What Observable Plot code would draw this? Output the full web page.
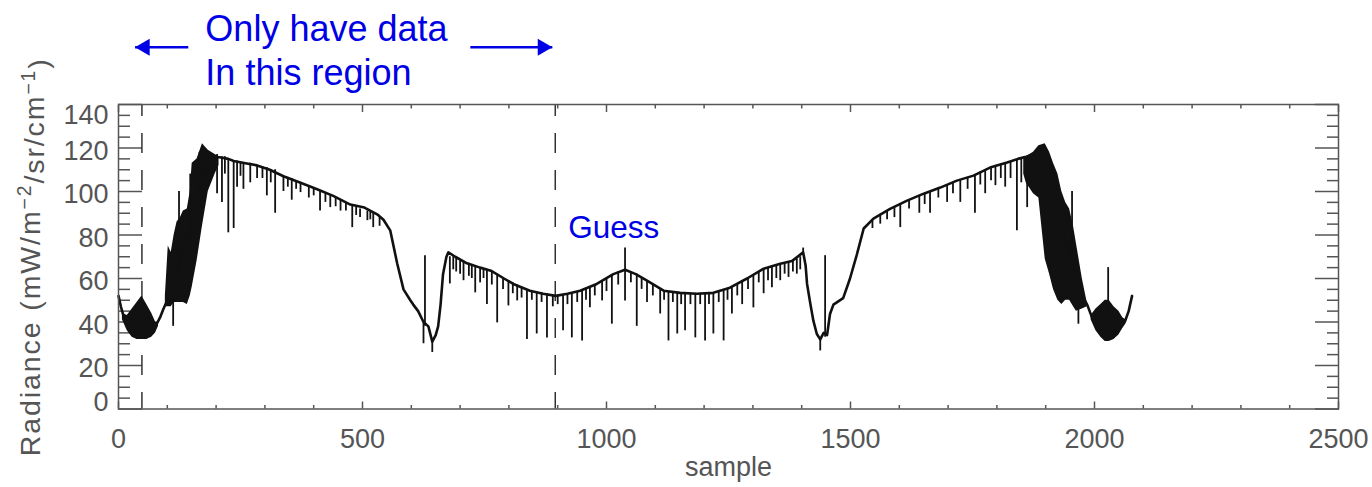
<!DOCTYPE html>
<html>
<head>
<meta charset="utf-8">
<script src="https://cdn.jsdelivr.net/npm/d3@7"></script>
<script src="https://cdn.jsdelivr.net/npm/@observablehq/plot@0.6"></script>
<style>
  html, body { margin: 0; padding: 0; background: #fff; }
  #chart svg { display: block; }
</style>
</head>
<body>
<div id="chart"></div>
<script>
// ---- data: [sample, radiance] ----
const spectrum = [
  [0,52],[5,47],[10,43],[18,40],[30,38],[48,40],[65,38],[78,39],[85,42],[92,46],
  [100,50],[106,53],[112,60],[131,70],[151,85],[172,105],[184,115],[198,116],[210,115.6],[225,115],
  [236,114],[260,113],[284,112],[310,110],[338,107],[373,104],[407,101],[440,98],[475,94],[504,92.6],
  [530,89.5],[543,87],[557,82],[571,67],[584,55],[598,50],[604,48],[614,45],[625,40],[635,38],
  [643,31],[650,34],[655,38],[660,48],[665,62],[672,70],[676,72],[690,70],[714,67],[741,65],
  [763,63.6],[790,60],[809,57.5],[843,54.4],[870,53],[896,52],[920,53],[946,54.4],[980,57.5],[1014,62],
  [1038,64],[1060,62],[1083,59],[1117,54.4],[1151,53.4],[1185,53],[1219,53.4],[1253,55.8],[1288,60],[1322,64.5],
  [1356,66.8],[1380,68],[1403,72],[1408,66],[1411,57.5],[1418,48],[1424,40.5],[1431,34.5],[1438,32],[1445,35],
  [1452,34],[1458,43.7],[1465,48],[1485,51],[1499,60],[1513,71],[1527,83],[1547,87.5],[1581,92],[1616,95.8],
  [1650,99],[1684,101.8],[1718,105],[1752,107.3],[1786,111],[1821,113.3],[1843,115],[1860,116],[1875,117],[1886,119],
  [1903,118],[1920,100],[1935,80],[1950,70],[1963,60],[1975,52],[1985,48],[1995,42],[2010,39],[2030,37],
  [2050,38],[2062,40],[2070,45],[2077,52]
];

// narrow absorption / emission lines: [sample, radiance at line base, radiance at line tip]
const spectralLines = [
  [112,50,38],[124,60,100],[147,80,108],[166,95,118],
  [202,117,99],[212,116,95],[218,116,108],[225,115,81],[236,114,83],[243,114,102],[250,113.5,107],[256,113,101],
  [270,113,104],[284,112,106],[295,111.5,106],[304,111,98],[312,110,104],[321,110,90],[338,107,100],[347,106.5,102],
  [355,106,96],[364,105,101],[373,104,99.5],[390,102,97],[400,101.5,98],[413,100,91],[424,99,95],[434,98,92.6],
  [445,97,93],[455,96,91],[466,95,91],[479,94,83.4],[487,93,89],[495,92,88],[510,91,86.6],[516,90.5,87],
  [522,90,83.4],[535,88,84],
  [625,40,30],[628,38,70.5],[643,31,26],
  [679,70,57.5],[686,70,64],[692,69.5,63],[700,68,62],[707,68,59],[718,67,61],[724,66.5,60],[731,66,53.4],
  [741,65,58],[748,64.5,60],[755,64,48],[765,63.4,57],[776,62,39.6],[788,60.5,55],[799,59,47.4],[808,58,53],
  [817,57,49.7],[826,56,51],[837,55,32],[847,54.5,50],[857,54,34.5],[867,53.5,49],[878,53,32.7],[890,52.5,47],
  [900,52,48],[911,52.5,36],[920,53,48],[929,53,32.7],[940,54,49],[950,54.5,31.3],[958,55,50],[966,56,46.5],
  [976,57,52],[991,58.5,49.7],[1000,60,54],[1011,61.5,39],[1024,63,57],[1038,64,49.7],[1038,64,74],[1050,63,58],
  [1062,62,38],[1072,60.5,55],[1083,59,49],[1095,57.5,52],[1110,55.5,43.7],[1118,54.5,50],[1127,54,31.3],[1136,53.8,49],
  [1145,53.5,34.5],[1153,53.4,48],[1161,53.4,36],[1172,53.2,48],[1182,53.2,32.7],[1192,53.2,48],[1202,53.2,31.3],
  [1210,53.3,48],[1219,53.4,34.5],[1230,54,49],[1240,54.5,31.3],[1248,55,50],[1257,56,43.7],[1268,57.5,52],
  [1278,59,48],[1290,60,55],[1301,61.5,46.5],[1312,63,58],[1322,64.5,53],[1331,65,59],[1339,65.5,55.8],
  [1348,66,60],[1356,66.8,59],[1365,67.3,62],[1373,67.8,60.5],[1382,68.3,63],[1390,69,62],[1397,70,64],[1403,72,74],
  [1438,32,26.7],[1448,33,70.5],
  [1545,87,83],[1561,89.5,85],[1575,91,87],[1590,93,88],[1602,94.5,83.4],[1620,96,92],[1641,98,90],[1652,99,94],
  [1663,99.5,90],[1680,101.5,97],[1698,103,95],[1710,104,99],[1725,105.5,95],[1740,106.5,101],[1755,107.5,90],
  [1766,109,103],[1776,110,99],[1788,111,105],[1797,112,102.7],[1808,112.5,106],[1817,113,102],[1828,113.8,106],
  [1841,114.5,82],[1850,115,104],[1862,116,92.6],
  [1912,90,62],[1954,70,100],[1967,50,39],[2028,45,65]
];

// densely oscillating stretches, drawn as filled envelopes: [sample, low, high]
const leftBlob = [[8,41,44],[18,36,43],[28,33,46],[38,32,49],[48,32,52],[58,32,48],[68,33,44],[76,35,40],[82,38,40]];
const leftRise = [[96,47,52],[102,47,75],[108,47,72],[114,49,80],[120,49,86],[127,49,88],[133,49,91],[141,48,92],
  [147,52,100],[151,56,113],[161,68,115],[172,84,122],[184,100,119],[198,108,117],[206,112,116]];
const rightFall = [[1855,108,116],[1860,104,116],[1875,99,118],[1886,97,121],[1899,69,122],[1908,62,118],[1916,55,113],
  [1925,50,108],[1933,48,100],[1941,50,95],[1949,50,92],[1957,47,84],[1963,45,76],[1975,46,60],[1985,47,49]];
const rightBlob = [[1993,41,43],[2003,36,46],[2013,33,48],[2022,31,50],[2030,31,50],[2040,32,47],[2050,34,45],[2058,37,42],[2064,39,41]];

// axis ticks
const xMajorTicks = [0, 500, 1000, 1500, 2000, 2500];
const xMinorTicks = [100,200,300,400,600,700,800,900,1100,1200,1300,1400,1600,1700,1800,1900,2100,2200,2300,2400];
const yMajorTicks = [0, 20, 40, 60, 80, 100, 120, 140];
const yMinorTicks = [5,10,15,25,30,35,45,50,55,65,70,75,85,90,95,105,110,115,125,130,135];

// annotations
const regionBounds = [48, 895];
const regionNote = [{sample: 178, radiance: 183.4, text: "Only have data\nIn this region"}];
const guessNote = [{sample: 921.5, radiance: 89, text: "Guess"}];
const arrowsLeft = [{from: 143, to: 34, level: 166.3}];
const arrowsRight = [{from: 721, to: 889, level: 166.3}];

const xLabel = "sample";
const yLabel = "Radiance (mW/m-2/sr/cm-1)";
// pieces of the y title: [text, isSuperscript]
const yLabelParts = [["Radiance (mW/m", false], ["−2", true], ["/sr/cm", false], ["−1", true], [")", false]];

// ---- build ----
const line = spectrum.map(([sample, radiance]) => ({sample, radiance}));
const lines = spectralLines.map(([sample, base, tip]) => ({sample, base, tip}));
const bands = [
  ...leftBlob.map(d => ({band: "a", sample: d[0], lo: d[1], hi: d[2]})),
  ...leftRise.map(d => ({band: "b", sample: d[0], lo: d[1], hi: d[2]})),
  ...rightFall.map(d => ({band: "c", sample: d[0], lo: d[1], hi: d[2]})),
  ...rightBlob.map(d => ({band: "d", sample: d[0], lo: d[1], hi: d[2]}))
];

const blue = "#0000e6";
const gray = "#555555";
const ink = "#111111";
const fmt = d => String(d);

const chart = Plot.plot({
  width: 1372,
  height: 487,
  marginLeft: 118,
  marginRight: 34,
  marginTop: 104,
  marginBottom: 78.5,
  x: {domain: [0, 2500], label: null},
  y: {domain: [0, 140], label: null},
  style: {fontFamily: "'Liberation Sans', Arial, sans-serif", background: "white"},
  marks: [
    // tick marks, pointing inward on all four sides
    Plot.axisX(xMajorTicks, {anchor: "bottom", tickSize: -7, tickFormat: () => "", label: null, color: gray, strokeWidth: 1.5}),
    Plot.axisX(xMinorTicks, {anchor: "bottom", tickSize: -3.5, tickFormat: () => "", label: null, color: gray, strokeWidth: 1.5}),
    Plot.axisX(xMajorTicks, {anchor: "top", tickSize: -7, tickFormat: () => "", label: null, color: gray, strokeWidth: 1.5}),
    Plot.axisX(xMinorTicks, {anchor: "top", tickSize: -3.5, tickFormat: () => "", label: null, color: gray, strokeWidth: 1.5}),
    Plot.axisY(yMajorTicks, {anchor: "left", tickSize: -24, tickFormat: () => "", label: null, color: gray, strokeWidth: 1.5}),
    Plot.axisY(yMinorTicks, {anchor: "left", tickSize: -12, tickFormat: () => "", label: null, color: gray, strokeWidth: 1.5}),
    Plot.axisY(yMajorTicks, {anchor: "right", tickSize: -24, tickFormat: () => "", label: null, color: gray, strokeWidth: 1.5}),
    Plot.axisY(yMinorTicks, {anchor: "right", tickSize: -12, tickFormat: () => "", label: null, color: gray, strokeWidth: 1.5}),
    // tick labels
    Plot.axisX(xMajorTicks, {anchor: "bottom", tickSize: 0, tickPadding: 20, tickFormat: fmt, label: null, color: gray, fontSize: 27}),
    Plot.axisY(yMajorTicks.filter(v => v === 140), {anchor: "left", tickSize: 0, tickPadding: 10, dy: 11, tickFormat: fmt, label: null, color: gray, fontSize: 27}),
    Plot.axisY(yMajorTicks.filter(v => v > 0 && v < 140), {anchor: "left", tickSize: 0, tickPadding: 10, dy: 3, tickFormat: fmt, label: null, color: gray, fontSize: 27}),
    Plot.axisY(yMajorTicks.filter(v => v === 0), {anchor: "left", tickSize: 0, tickPadding: 10, dy: -7, tickFormat: fmt, label: null, color: gray, fontSize: 27}),
    // axis titles
    Plot.text([xLabel], {frameAnchor: "bottom", dy: 58, lineAnchor: "middle", textAnchor: "middle", fill: gray, fontSize: 27}),
    Plot.text([yLabel], {frameAnchor: "left", dx: -88, rotate: -90, textAnchor: "middle", lineAnchor: "middle", fill: gray, fontSize: 28.5}),
    // region boundaries
    Plot.ruleX(regionBounds, {stroke: "#333", strokeWidth: 1.5, strokeDasharray: "20,17", strokeDashoffset: 8}),
    // spectrum
    Plot.areaY(bands, {x: "sample", y1: "lo", y2: "hi", z: "band", fill: ink, curve: "linear"}),
    Plot.ruleX(lines, {x: "sample", y1: "base", y2: "tip", stroke: ink, strokeWidth: 1.8}),
    Plot.line(line, {x: "sample", y: "radiance", stroke: ink, strokeWidth: 2.6, curve: "linear"}),
    Plot.frame({stroke: gray, strokeWidth: 1.5}),
    // annotations
    Plot.text(regionNote, {x: "sample", y: "radiance", text: "text", textAnchor: "start", lineAnchor: "top", lineHeight: 1.22, fill: blue, fontSize: 36}),
    Plot.text(guessNote, {x: "sample", y: "radiance", text: "text", textAnchor: "start", lineAnchor: "top", fill: blue, fontSize: 31.5}),
    Plot.link([...arrowsLeft, ...arrowsRight], {x1: "from", x2: "to", y1: "level", y2: "level", stroke: blue, strokeWidth: 2.5}),
    Plot.dot(arrowsLeft, {x: "to", y: "level", symbol: "triangle", rotate: -90, r: 6.3, fill: blue, stroke: "none", dx: 9.7}),
    Plot.dot(arrowsRight, {x: "to", y: "level", symbol: "triangle", rotate: 90, r: 6.3, fill: blue, stroke: "none", dx: -9.7})
  ]
});
document.getElementById("chart").append(chart);

// typeset the superscripts of the y title as real raised text, with IDL-like letter spacing
d3.select(chart).selectAll("text").filter(function () { return this.textContent === yLabel; }).each(function () {
  const t = d3.select(this).attr("letter-spacing", "1.9px");
  t.text(null);
  let raised = false;
  for (const [piece, sup] of yLabelParts) {
    const span = t.append("tspan").text(piece);
    if (sup && !raised) { span.attr("dy", "-0.45em"); raised = true; }
    else if (!sup && raised) { span.attr("dy", "0.45em"); raised = false; }
    if (sup) span.attr("font-size", "0.68em");
  }
});
</script>
</body>
</html>
